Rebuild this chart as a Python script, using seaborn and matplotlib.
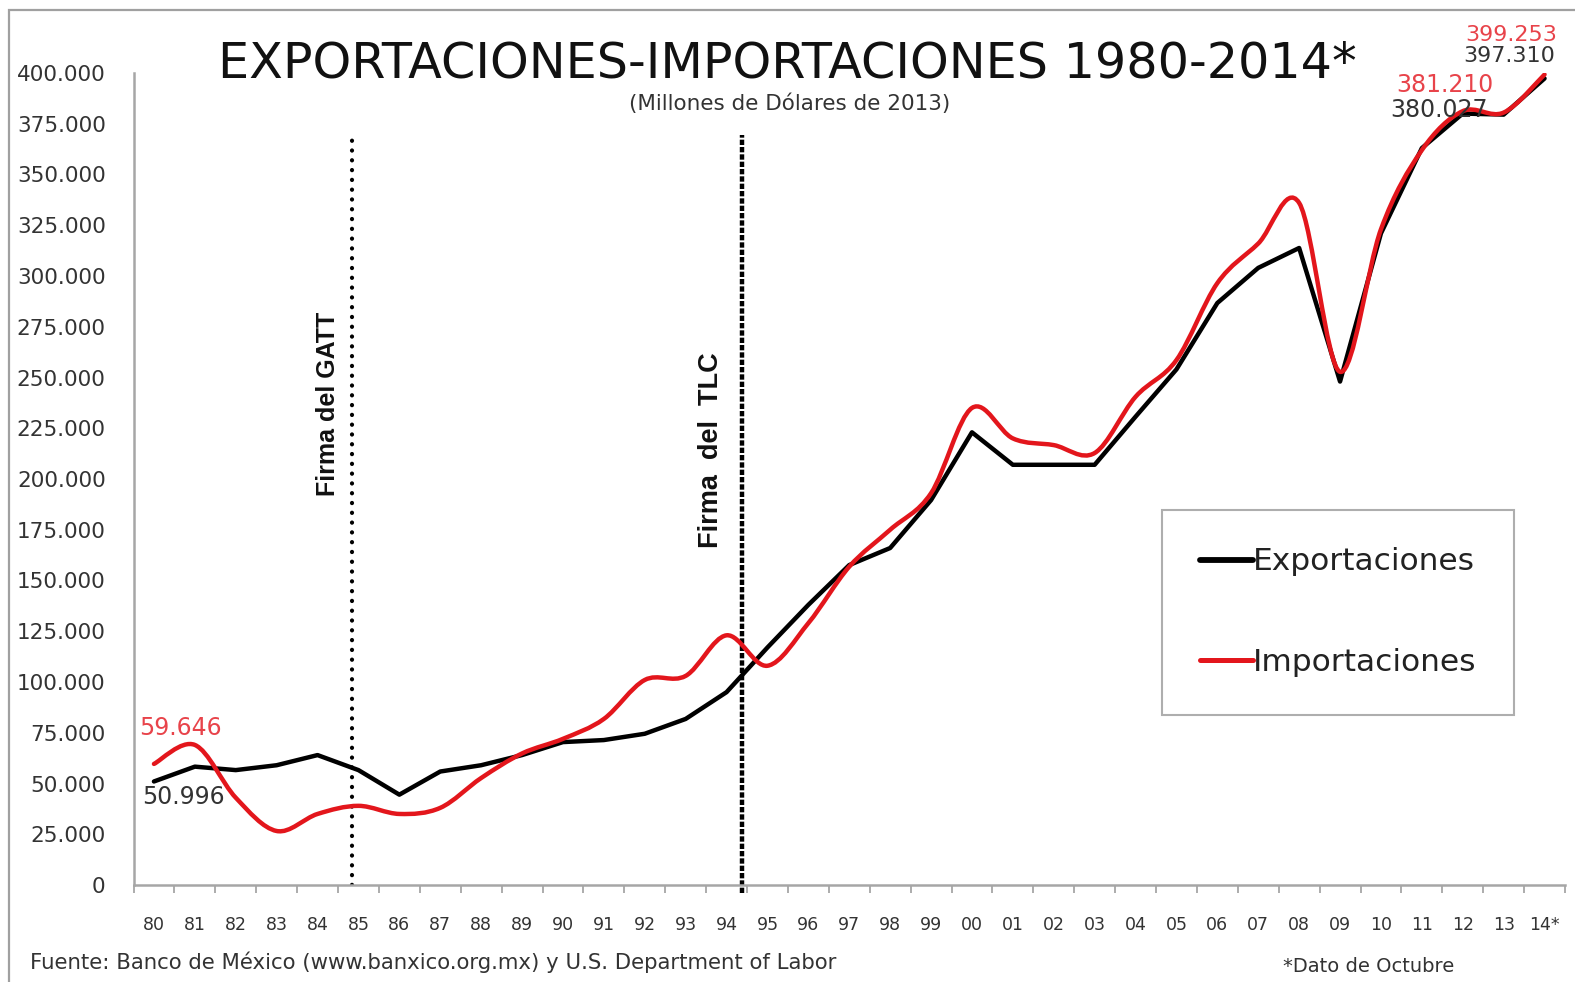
import numpy as np
import matplotlib
matplotlib.use("Agg")
import matplotlib.pyplot as plt
from matplotlib.path import Path
from matplotlib.patches import PathPatch, Rectangle
from matplotlib.lines import Line2D
import seaborn as sns

# Years 1980-2014 (2014 = data through October)
years = ["80", "81", "82", "83", "84", "85", "86", "87", "88", "89",
         "90", "91", "92", "93", "94", "95", "96", "97", "98", "99",
         "00", "01", "02", "03", "04", "05", "06", "07", "08", "09",
         "10", "11", "12", "13", "14*"]

# Millions of 2013 dollars
exportaciones = [50996, 58300, 56600, 59000, 64000, 56600, 44500, 55900, 59000, 64000,
                 70400, 71400, 74500, 81800, 95000, 117000, 138000, 157600, 166000, 189600,
                 223000, 207000, 207000, 207000, 230700, 254000, 286700, 304000, 313800, 248000,
                 321000, 363000, 380027, 379500, 397310]
importaciones = [59646, 69000, 43000, 26600, 35000, 39000, 35000, 38000, 52700, 64800,
                 72000, 81800, 101000, 103000, 123000, 108000, 129000, 156800, 175000, 193000,
                 235000, 220000, 216700, 212800, 240500, 258600, 296500, 316000, 336000, 252800,
                 323000, 362000, 381210, 380500, 399253]

# Vertical event markers (position on the category axis)
eventos = {"Firma del GATT": 4.84, "Firma del TLC": 14.38}

BLACK = "#000000"
RED = "#e3161c"
RED_TXT = "#e8434a"
GRAY_TXT = "#333333"

sns.set_theme(style="white")
plt.rcParams["font.family"] = ["DejaVu Sans"]

W, H = 1575, 982
fig = plt.figure(figsize=(W / 100, H / 100), dpi=100)
fig.patch.set_facecolor("white")
left_px, right_px, top_px, bot_px = 133.5, 1565, 73, 885
ax = fig.add_axes([left_px / W, 1 - bot_px / H, (right_px - left_px) / W, (bot_px - top_px) / H])

x = np.arange(len(years))

# Exports: straight segments
sns.lineplot(x=x, y=exportaciones, ax=ax, color=BLACK, linewidth=3.2, zorder=3)


def smooth_path(xs, ys):
    """Cubic Bezier through every point (spreadsheet-style smoothed line)."""
    pts = np.column_stack([xs, ys]).astype(float)
    n = len(pts)
    verts = [pts[0]]
    codes = [Path.MOVETO]
    for i in range(n - 1):
        p0 = pts[i - 1] if i > 0 else pts[i]
        p1 = pts[i]
        p2 = pts[i + 1]
        p3 = pts[i + 2] if i + 2 < n else pts[i + 1]
        verts += [p1 + (p2 - p0) / 6.0, p2 - (p3 - p1) / 6.0, p2]
        codes += [Path.CURVE4] * 3
    return Path(verts, codes)


# Imports: smoothed line on top
ax.add_patch(PathPatch(smooth_path(x, importaciones), fill=False, edgecolor=RED,
                       linewidth=3.2, capstyle="round", joinstyle="round", zorder=4))

ax.set_xlim(-0.5, len(years) - 0.5)
ax.set_ylim(0, 400000)

# Event lines
ymax_ev = 369500
ax.plot([eventos["Firma del GATT"]] * 2, [0, ymax_ev], color=BLACK, lw=3.0,
        linestyle=(0, (0.05, 2.3)), dash_capstyle="round", zorder=2)
ax.plot([eventos["Firma del TLC"]] * 2, [-4000, ymax_ev], color=BLACK, lw=3.2,
        linestyle=(0, (1.2, 0.45)), dash_capstyle="butt", zorder=2, clip_on=False)
ax.text(4.25, 237000, "Firma del GATT", rotation=90, ha="center", va="center",
        fontsize=18, fontweight="bold", family="Liberation Sans", color="#111111")
ax.text(13.62, 214000, "Firma  del  TLC", rotation=90, ha="center", va="center",
        fontsize=19.5, fontweight="bold", family="Liberation Sans", color="#111111")

# Axes styling
yt = np.arange(0, 400001, 25000)
ax.set_yticks(yt)
ax.set_yticklabels([f"{v:,.0f}".replace(",", ".") for v in yt])
ax.tick_params(axis="y", length=0, pad=20, labelsize=15.5, labelcolor=GRAY_TXT)
ax.set_xticks(x)
ax.set_xticklabels(years)
ax.set_xticks(np.arange(-0.5, len(years), 1.0), minor=True)
ax.tick_params(axis="x", which="major", length=0, pad=22, labelsize=12.5, labelcolor=GRAY_TXT)
ax.tick_params(axis="x", which="minor", length=5.5, width=1.3, color="#a6a6a6",
               direction="out", bottom=True)
for s in ["top", "right"]:
    ax.spines[s].set_visible(False)
for s in ["left", "bottom"]:
    ax.spines[s].set_color("#a6a6a6")
    ax.spines[s].set_linewidth(1.8)
ax.grid(False)
ax.set_xlabel("")
ax.set_ylabel("")

# Value labels at the first and last points
def label(i, serie, dx, dy, color, size=17):
    ax.annotate(f"{serie[i]:,.0f}".replace(",", "."), xy=(x[i], serie[i]),
                xytext=(dx, dy), textcoords="offset pixels", ha="center", va="center",
                fontsize=size, color=color, zorder=6, annotation_clip=False)

label(0, importaciones, 26, 36, RED_TXT)
label(0, exportaciones, 29, -16, GRAY_TXT)
label(32, importaciones, -18, 26, RED_TXT)
label(32, exportaciones, -24, 4, GRAY_TXT)
label(34, importaciones, -33, 40, RED_TXT, size=16)
label(34, exportaciones, -35, 22, GRAY_TXT, size=16)

# Titles
fig.text(787 / W, 1 - 64 / H, "EXPORTACIONES-IMPORTACIONES 1980-2014*", ha="center",
         va="center", fontsize=35.5, color="#111111")
fig.text(790 / W, 1 - 104 / H, "(Millones de Dólares de 2013)", ha="center", va="center",
         fontsize=15.5, color=GRAY_TXT)

# Legend
handles = [Line2D([], [], color=BLACK, lw=4.2), Line2D([], [], color=RED, lw=3.6)]
leg = fig.legend(handles, ["Exportaciones", "Importaciones"], loc="upper left",
                 bbox_to_anchor=(1162 / W, 1 - 510 / H), bbox_transform=fig.transFigure,
                 frameon=True, fancybox=False, edgecolor="#9a9a9a", fontsize=22.5,
                 handlelength=1.7, handletextpad=0.0, labelspacing=2.3, borderpad=1.2,
                 borderaxespad=0)
leg.get_frame().set_linewidth(1.5)
for t in leg.get_texts():
    t.set_color("#222222")

# Footer
fig.text(30 / W, 1 - 962 / H, "Fuente: Banco de México (www.banxico.org.mx) y U.S. Department of Labor",
         ha="left", va="center", fontsize=15.3, color=GRAY_TXT)
fig.text(1369 / W, 1 - 966 / H, "*Dato de Octubre", ha="center", va="center",
         fontsize=14, color=GRAY_TXT)

# Chart-area border
fig.add_artist(Rectangle((9 / W, -0.05), 1.2, (H - 10) / H + 0.05, transform=fig.transFigure,
                         fill=False, edgecolor="#a0a0a0", lw=1.6))

fig.savefig("out.png", dpi=100, facecolor="white")
